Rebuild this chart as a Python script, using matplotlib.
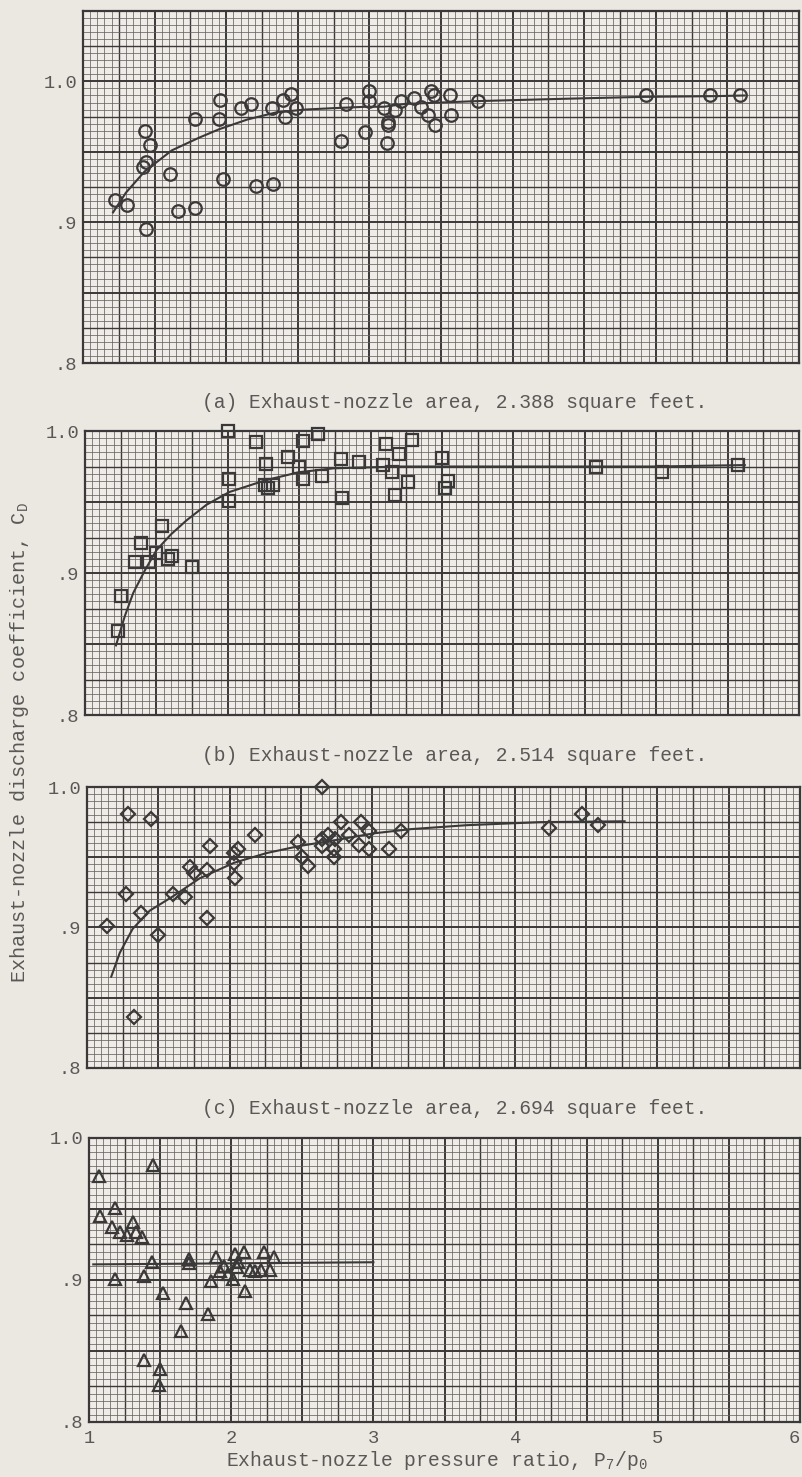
import numpy as np
import matplotlib
matplotlib.use("Agg")
import matplotlib.pyplot as plt

plt.rcParams["font.family"] = ["Liberation Mono", "DejaVu Sans Mono"]
plt.rcParams["mathtext.fontset"] = "custom"
plt.rcParams["mathtext.rm"] = "Liberation Mono"
plt.rcParams["mathtext.it"] = "Liberation Mono"

PAPER = "#ebe8e2"; INK = "#3a3838"; TXT = "#5a5856"

# ---- (a) 2.388 sq ft : circles ----
a_x = [1.22, 1.31, 1.43, 1.47, 1.44, 1.42, 1.44, 1.61, 1.66, 1.78, 1.78, 1.96, 1.95, 1.98,
       2.10, 2.17, 2.21, 2.33, 2.32, 2.40, 2.45, 2.49, 2.41, 2.84, 2.80, 2.97, 3.00, 3.00,
       3.10, 3.13, 3.13, 3.12, 3.18, 3.22, 3.31, 3.36, 3.41, 3.43, 3.45, 3.46, 3.56, 3.57,
       3.76, 4.93, 5.38, 5.59]
a_y = [0.916, 0.912, 0.965, 0.955, 0.943, 0.939, 0.895, 0.934, 0.908, 0.910, 0.973, 0.987,
       0.973, 0.931, 0.981, 0.984, 0.926, 0.927, 0.981, 0.987, 0.991, 0.981, 0.975, 0.984,
       0.958, 0.964, 0.993, 0.986, 0.981, 0.971, 0.969, 0.956, 0.980, 0.986, 0.988, 0.982,
       0.976, 0.993, 0.990, 0.969, 0.990, 0.976, 0.986, 0.990, 0.990, 0.990]
a_cx = [1.21, 1.30, 1.43, 1.62, 1.81, 1.95, 2.15, 2.35, 2.55, 2.75, 2.98, 3.10, 3.25, 3.50,
        3.75, 4.30, 4.90, 5.40, 5.62]
a_cy = [0.907, 0.921, 0.936, 0.951, 0.960, 0.966, 0.973, 0.978, 0.980, 0.981, 0.982, 0.982,
        0.984, 0.985, 0.986, 0.9875, 0.989, 0.9895, 0.990]

# ---- (b) 2.514 sq ft : squares ----
b_x = [1.23, 1.25, 1.39, 1.35, 1.45, 1.50, 1.54, 1.58, 1.61, 1.75, 2.00, 2.01, 2.01, 2.20,
       2.27, 2.26, 2.28, 2.32, 2.42, 2.50, 2.53, 2.53, 2.63, 2.66, 2.79, 2.80, 2.92, 3.09,
       3.11, 3.15, 3.17, 3.29, 3.20, 3.26, 3.50, 3.54, 3.52, 4.58, 5.04, 5.57]
b_y = [0.859, 0.884, 0.921, 0.908, 0.908, 0.914, 0.933, 0.910, 0.912, 0.904, 1.000, 0.966,
       0.951, 0.992, 0.977, 0.962, 0.960, 0.962, 0.982, 0.975, 0.993, 0.966, 0.998, 0.968,
       0.980, 0.953, 0.978, 0.976, 0.991, 0.971, 0.955, 0.994, 0.984, 0.964, 0.981, 0.965,
       0.960, 0.975, 0.971, 0.976]
b_cx = [1.217, 1.28, 1.338, 1.42, 1.50, 1.60, 1.71, 1.85, 2.01, 2.27, 2.50, 2.74, 3.20,
        4.00, 5.00, 5.62]
b_cy = [0.849, 0.870, 0.886, 0.902, 0.916, 0.927, 0.937, 0.948, 0.957, 0.9655, 0.971,
        0.9737, 0.975, 0.975, 0.975, 0.976]

# ---- (c) 2.694 sq ft : diamonds ----
c_x = [1.14, 1.29, 1.45, 1.27, 1.38, 1.50, 1.33, 1.60, 1.69, 1.72, 1.75, 1.84, 1.84, 1.86,
       2.03, 2.04, 2.03, 2.06, 2.18, 2.48, 2.51, 2.55, 2.65, 2.65, 2.65, 2.69, 2.74, 2.73,
       2.73, 2.78, 2.84, 2.91, 2.92, 2.98, 2.98, 3.12, 3.20, 4.24, 4.47, 4.58]
c_y = [0.901, 0.981, 0.977, 0.924, 0.910, 0.895, 0.836, 0.924, 0.922, 0.943, 0.939, 0.941,
       0.907, 0.958, 0.946, 0.935, 0.953, 0.956, 0.966, 0.961, 0.950, 0.944, 1.000, 0.963,
       0.958, 0.966, 0.963, 0.950, 0.956, 0.975, 0.966, 0.959, 0.975, 0.969, 0.956, 0.956,
       0.969, 0.971, 0.981, 0.973]
c_cx = [1.17, 1.23, 1.32, 1.44, 1.60, 1.79, 2.03, 2.26, 2.49, 2.73, 3.01, 3.27, 3.66, 4.18, 4.77]
c_cy = [0.865, 0.882, 0.899, 0.912, 0.922, 0.935, 0.946, 0.953, 0.958, 0.962, 0.967, 0.970,
        0.9728, 0.975, 0.9756]

# ---- (d) triangles ----
d_x = [1.07, 1.45, 1.08, 1.18, 1.16, 1.22, 1.27, 1.31, 1.33, 1.37, 1.18, 1.39, 1.44, 1.52,
       1.39, 1.50, 1.49, 1.68, 1.65, 1.70, 1.70, 1.84, 1.86, 1.89, 1.92, 1.95, 1.98, 2.01,
       2.03, 2.04, 2.05, 2.09, 2.10, 2.13, 2.17, 2.23, 2.21, 2.27, 2.30]
d_y = [0.973, 0.981, 0.945, 0.951, 0.937, 0.934, 0.932, 0.941, 0.934, 0.930, 0.901, 0.903,
       0.913, 0.891, 0.844, 0.837, 0.826, 0.884, 0.864, 0.915, 0.912, 0.876, 0.899, 0.916,
       0.906, 0.910, 0.904, 0.901, 0.918, 0.909, 0.913, 0.920, 0.892, 0.907, 0.906, 0.920,
       0.907, 0.907, 0.916]
d_cx = [1.03, 3.00]
d_cy = [0.911, 0.9125]

CAPTIONS = ["(a) Exhaust-nozzle area, 2.388 square feet.",
            "(b) Exhaust-nozzle area, 2.514 square feet.",
            "(c) Exhaust-nozzle area, 2.694 square feet."]

W, H = 802, 1477
fig = plt.figure(figsize=(W/100, H/100), dpi=100)
fig.patch.set_facecolor(PAPER)

# pixel boxes (left, top, right, bottom) and y upper limit per panel
boxes = [(83, 11, 799, 363), (85, 431, 799, 715), (87, 787, 800, 1068), (89, 1138, 800, 1422)]
ytops = [1.05, 1.0, 1.0, 1.0]
sets = [(a_x, a_y, a_cx, a_cy, "o"), (b_x, b_y, b_cx, b_cy, "s"),
        (c_x, c_y, c_cx, c_cy, "D"), (d_x, d_y, d_cx, d_cy, "^")]
msz = {"o": 9.0, "s": 8.4, "D": 7.6, "^": 8.6}

def _grid(ax, ytop):
    for v in np.arange(1, 6.001, 0.05):
        k = round(v / 0.05)
        lw, c = (1.4, INK) if k % 10 == 0 else ((1.0, INK) if k % 5 == 0 else (0.55, "#666462"))
        ax.axvline(v, color=c, lw=lw, zorder=1)
    for v in np.arange(0.8, ytop + 1e-6, 0.005):
        k = round(v / 0.005)
        lw, c = (1.4, INK) if k % 10 == 0 else ((1.0, INK) if k % 5 == 0 else (0.55, "#666462"))
        ax.axhline(v, color=c, lw=lw, zorder=1)

for i, ((l, t, r, b), ytop, (xs, ys, cx, cy, mk)) in enumerate(zip(boxes, ytops, sets)):
    ax = fig.add_axes([l/W, 1-b/H, (r-l)/W, (b-t)/H])
    ax.set_facecolor("#efece7")
    ax.set_xlim(1, 6); ax.set_ylim(0.8, ytop)
    _grid(ax, ytop)
    ax.plot(cx, cy, color=INK, lw=1.5, zorder=3)
    ax.plot(xs, ys, ls="none", marker=mk, ms=msz[mk], mfc="none", mec=INK, mew=1.6,
            zorder=4, clip_on=False)
    for s in ax.spines.values():
        s.set_color(INK); s.set_linewidth(1.6)
    ax.set_yticks([0.8, 0.9, 1.0]); ax.set_yticklabels([".8", ".9", "1.0"])
    ax.tick_params(length=0, labelsize=13.5, labelcolor=TXT, pad=4)
    if i < 3:
        ax.set_xticks([])
        fig.text(455/W, 1-(b + 40)/H, CAPTIONS[i], ha="center", va="center",
                 fontsize=14.1, color=TXT)
    else:
        ax.set_xticks([1, 2, 3, 4, 5, 6]); ax.set_xticklabels(["1", "2", "3", "4", "5", "6"])
        ax.tick_params(axis="x", pad=6)
        ax.get_xticklabels()[-1].set_ha("right")

fig.text(437/W, 1-1460/H, r"Exhaust-nozzle pressure ratio, P$_7$/p$_0$", ha="center", va="center",
         fontsize=14.2, color=TXT)
fig.text(20/W, 1-743/H, r"Exhaust-nozzle discharge coefficient, C$_\mathrm{D}$", ha="center",
         va="center", rotation=90, fontsize=14.5, color=TXT)

fig.savefig("out.png", dpi=100, facecolor=PAPER)
